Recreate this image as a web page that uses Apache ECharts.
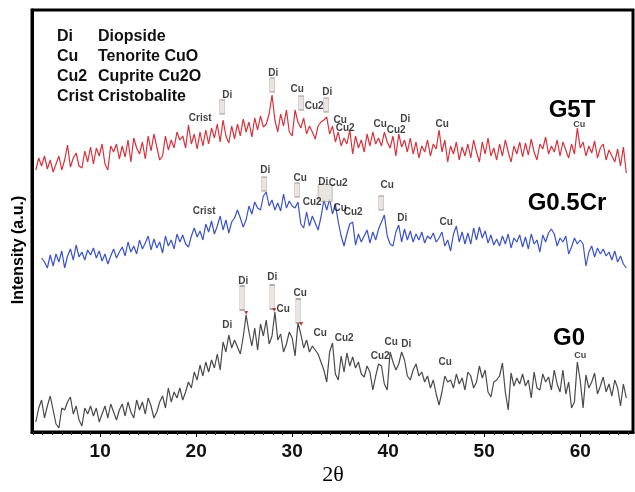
<!DOCTYPE html>
<html>
<head>
<meta charset="utf-8">
<script src="https://cdn.jsdelivr.net/npm/echarts@6/dist/echarts.min.js"></script>
<style>
html, body { margin: 0; padding: 0; background: #fff; }
#chart { width: 635px; height: 492px; }
</style>
</head>
<body>
<div id="chart"></div>
<script>
// scan grid: first 2-theta and step, degrees
let thetaStart = 3.3;
let thetaStep = 0.3;

// intensities (a.u.), one value per step
let g5t = [
	262, 274, 266, 276, 263, 272, 260, 268, 276, 262,
	272, 287, 265, 274, 279, 266, 264, 281, 270, 285,
	268, 284, 276, 288, 268, 262, 286, 280, 288, 273,
	286, 275, 292, 270, 294, 284, 278, 290, 273, 296,
	281, 298, 285, 272, 276, 296, 282, 292, 284, 300,
	292, 296, 284, 307, 288, 298, 283, 300, 286, 302,
	288, 304, 294, 308, 290, 312, 296, 289, 306, 293,
	308, 296, 313, 300, 310, 295, 314, 302, 316, 305,
	308, 318, 337, 312, 300, 318, 306, 322, 300, 296,
	322, 310, 304, 314, 298, 306, 300, 293, 306, 310,
	312, 315, 298, 306, 290, 300, 286, 294, 288, 302,
	278, 296, 284, 292, 280, 298, 286, 300, 288, 294,
	286, 300, 290, 284, 296, 276, 298, 285, 292, 280,
	294, 278, 290, 274, 286, 280, 292, 276, 288, 283,
	302, 280, 292, 270, 286, 278, 290, 272, 285, 276,
	288, 274, 292, 280, 270, 290, 278, 294, 276, 284,
	272, 288, 276, 292, 280, 270, 286, 278, 290, 275,
	289, 277, 293, 280, 272, 288, 283, 295, 278, 286,
	280, 292, 276, 290, 282, 274, 288, 278, 304, 284,
	290, 276, 286, 279, 291, 274, 284, 288, 272, 282,
	276, 270, 283, 266, 285, 259
];

let g05cr = [
	null, null, 174, 170, 164, 177, 166, 178, 170, 181,
	164, 176, 183, 172, 187, 175, 180, 172, 182, 177,
	184, 174, 181, 171, 178, 168, 176, 183, 174, 180,
	185, 176, 190, 180, 186, 178, 192, 183, 189, 196,
	182, 193, 184, 190, 179, 196, 186, 192, 183, 198,
	190, 197, 188, 185, 196, 204, 195, 201, 192, 208,
	200, 211, 198, 206, 216, 202, 212, 199, 210, 214,
	222, 214, 205, 212, 226, 218, 230, 224, 222, 236,
	240, 226, 232, 222, 229, 221, 238, 224, 231, 226,
	224, 230, 208, 204, 220, 206, 216, 209, 202, 215,
	232, 222, 233, 218, 228, 210, 196, 186, 198, 208,
	210, 187, 198, 190, 196, 202, 189, 200, 192, 203,
	210, 217, 196, 188, 186, 200, 207, 190, 203, 192,
	201, 190, 198, 192, 200, 189, 196, 193, 199, 190,
	194, 200, 186, 192, 181, 198, 206, 190, 200, 188,
	199, 188, 204, 192, 205, 194, 201, 189, 197, 187,
	193, 186, 196, 188, 198, 184, 194, 190, 197, 185,
	195, 183, 198, 188, 192, 180, 197, 190, 199, 203,
	198, 186, 194, 190, 196, 178, 185, 194, 188, 192,
	188, 166, 180, 186, 175, 184, 178, 183, 176, 180,
	172, 181, 170, 176, 168, 164
];

let g0 = [
	10, 24, 32, 14, 26, 36, 22, 8, 4, 24,
	22, 30, 35, 18, 26, 12, 6, 24, 18, 26,
	16, 24, 10, 18, 26, 14, 28, 20, 12, 22,
	28, 16, 30, 20, 14, 32, 22, 30, 18, 34,
	26, 14, 20, 30, 36, 24, 44, 30, 40, 34,
	44, 32, 40, 50, 44, 60, 52, 67, 56, 70,
	60, 72, 64, 78, 62, 90, 80, 97, 84, 92,
	85, 78, 95, 117, 100, 86, 104, 82, 108, 96,
	112, 88, 96, 120, 92, 98, 80, 88, 100, 94,
	76, 109, 98, 84, 92, 80, 86, 82, 78, 70,
	62, 50, 80, 89, 58, 52, 76, 60, 79, 66,
	75, 64, 70, 58, 55, 66, 60, 42, 56, 68,
	66, 48, 42, 80, 70, 62, 68, 80, 72, 56,
	52, 62, 68, 56, 60, 50, 56, 44, 52, 38,
	27, 40, 56, 50, 52, 44, 58, 48, 54, 42,
	60, 56, 44, 50, 66, 54, 62, 40, 35, 50,
	52, 56, 69, 40, 22, 59, 46, 54, 48, 58,
	46, 52, 34, 60, 44, 42, 58, 50, 55, 42,
	62, 48, 40, 62, 38, 50, 24, 30, 70, 52,
	24, 57, 44, 50, 59, 38, 46, 55, 40, 48,
	36, 52, 44, 26, 48, 34
];

// phase labels: [2theta, intensity, text]
let g5tPhases = [
	[20.42, 314, "Crist"], [23.23, 337, "Di"], [28.02, 359, "Di"], [30.52, 343, "Cu"],
	[32.29, 326, "Cu2"], [33.65, 340, "Di"], [35.0, 312, "Cu"], [35.52, 304, "Cu2"],
	[39.17, 308, "Cu"], [40.83, 302, "Cu2"], [41.77, 313, "Di"], [45.63, 308, "Cu"]
];
let g05crPhases = [
	[20.83, 221, "Crist"], [27.19, 262, "Di"], [30.83, 254, "Cu"], [32.08, 230, "Cu2"],
	[33.23, 250, "Di"], [34.79, 249, "Cu2"], [35.0, 224, "Cu"], [36.35, 220, "Cu2"],
	[39.9, 247, "Cu"], [41.46, 214, "Di"], [46.04, 210, "Cu"]
];
let g0Phases = [
	[23.23, 107, "Di"], [24.9, 151, "Di"], [27.92, 155, "Di"], [29.06, 123, "Cu"],
	[30.83, 139, "Cu"], [32.92, 99, "Cu"], [35.42, 94, "Cu2"], [39.17, 76, "Cu2"],
	[40.31, 90, "Cu"], [41.88, 88, "Di"], [45.94, 70, "Cu"]
];
let smallPhases = [[59.9, 307, "Cu"], [60.0, 76, "Cu"]];

// d-spacing reference tags [2theta, intensity]
let refTags = [
	[22.71, 325], [27.92, 347], [30.94, 329], [33.54, 327],
	[27.08, 248], [30.52, 242], [39.27, 229]
];
let refTagsWide = [[33.44, 239]];
let refTagsLong = [[24.79, 134], [27.92, 135], [30.63, 121]];
let refMarks = [[25.21, 119], [28.13, 122], [30.94, 108]];

let xTicks = [10, 20, 30, 40, 50, 60];
let xMinorTicks = [];
for (let t = 3; t <= 65; t++) if (t % 10 !== 0) xMinorTicks.push(t);

let legendRows = [["Di", "Diopside"], ["Cu", "Tenorite CuO"], ["Cu2", "Cuprite Cu2O"]];

function toPairs(values) {
	let out = [];
	values.forEach((v, i) => {
		if (v !== null) out.push([+(thetaStart + i * thetaStep).toFixed(2), v]);
	});
	return out;
}

let chart = echarts.init(document.getElementById("chart"), null, {renderer: "canvas"});

let labelStyle = {
	show: true,
	position: "inside",
	formatter: p => p.data[2],
	fontFamily: "Liberation Sans",
	fontWeight: "bold",
	fontSize: 10,
	color: "#111"
};

function phaseSeries(data, size) {
	return {
		type: "scatter",
		data: data,
		symbolSize: 1,
		itemStyle: {color: "rgba(0,0,0,0)"},
		label: Object.assign({}, labelStyle, {fontSize: size}),
		silent: true,
		z: 5
	};
}

function tagSeries(data, size) {
	return {
		type: "scatter",
		data: data,
		symbol: "rect",
		symbolSize: size,
		itemStyle: {color: "#e6dedb", borderColor: "#8a7b76", borderWidth: 0.6},
		silent: true,
		z: 4
	};
}

let font = "Liberation Sans";
let graphics = [];
legendRows.forEach((row, i) => {
	graphics.push({type: "text", style: {text: row[0], x: 57, y: 37 + i * 20, font: "bold 16px " + font, fill: "#111", textVerticalAlign: "middle"}});
	graphics.push({type: "text", style: {text: row[1], x: 98, y: 37 + i * 20, font: "bold 16px " + font, fill: "#111", textVerticalAlign: "middle"}});
});
graphics.push({type: "text", style: {text: "Crist Cristobalite", x: 57, y: 97, font: "bold 16px " + font, fill: "#111", textVerticalAlign: "middle"}});
graphics.push({type: "text", style: {text: "G5T", x: 572, y: 110, font: "bold 24px " + font, fill: "#000", textAlign: "center", textVerticalAlign: "middle"}});
graphics.push({type: "text", style: {text: "G0.5Cr", x: 567, y: 203, font: "bold 24px " + font, fill: "#000", textAlign: "center", textVerticalAlign: "middle"}});
graphics.push({type: "text", style: {text: "G0", x: 569, y: 338, font: "bold 24px " + font, fill: "#000", textAlign: "center", textVerticalAlign: "middle"}});
graphics.push({type: "text", x: 19, y: 250, rotation: Math.PI / 2, style: {text: "Intensity (a.u.)", x: 0, y: 0, font: "bold 16px " + font, fill: "#000", textAlign: "center", textVerticalAlign: "middle"}});
graphics.push({type: "text", style: {text: "2θ", x: 333, y: 475, font: "22px 'Liberation Serif'", fill: "#000", textAlign: "center", textVerticalAlign: "middle"}});

chart.setOption({
	animation: false,
	backgroundColor: "#fff",
	grid: {left: 32, right: 2, top: 10, bottom: 60, show: true, borderColor: "#000", borderWidth: 3},
	xAxis: [{
		type: "value",
		min: 2.9,
		max: 65.5,
		position: "bottom",
		axisLine: {show: true, onZero: false, lineStyle: {color: "#000", width: 3}},
		axisTick: {show: true, customValues: xTicks, length: 5, lineStyle: {color: "#000", width: 1}},
		axisLabel: {customValues: xTicks, margin: 10, fontFamily: font, fontWeight: "bold", fontSize: 19, color: "#111"},
		splitLine: {show: false}
	}, {
		type: "value",
		min: 2.9,
		max: 65.5,
		position: "bottom",
		axisLine: {show: false},
		axisTick: {show: true, customValues: xMinorTicks, length: 3, lineStyle: {color: "#333", width: 1}},
		axisLabel: {show: false},
		splitLine: {show: false}
	}],
	yAxis: {
		type: "value",
		min: 0,
		max: 422,
		axisLine: {show: true, lineStyle: {color: "#000", width: 3}},
		axisTick: {show: false},
		axisLabel: {show: false},
		splitLine: {show: false}
	},
	series: [
		{type: "line", data: toPairs(g5t), showSymbol: false, lineStyle: {color: "#d8323c", width: 1.2}, z: 3},
		{type: "line", data: toPairs(g05cr), showSymbol: false, lineStyle: {color: "#3a52cc", width: 1.2}, z: 3},
		{type: "line", data: toPairs(g0), showSymbol: false, lineStyle: {color: "#4a4a4a", width: 1.2}, z: 3},
		phaseSeries(g5tPhases, 10),
		phaseSeries(g05crPhases, 10),
		phaseSeries(g0Phases, 10),
		phaseSeries(smallPhases, 9),
		tagSeries(refTags, [5, 14]),
		tagSeries(refTagsWide, [14, 17]),
		tagSeries(refTagsLong, [5, 24]),
		{type: "scatter", data: refMarks, symbol: "triangle", symbolRotate: 180, symbolSize: 4, itemStyle: {color: "#b01818"}, silent: true, z: 4}
	],
	graphic: graphics
});
</script>
</body>
</html>
